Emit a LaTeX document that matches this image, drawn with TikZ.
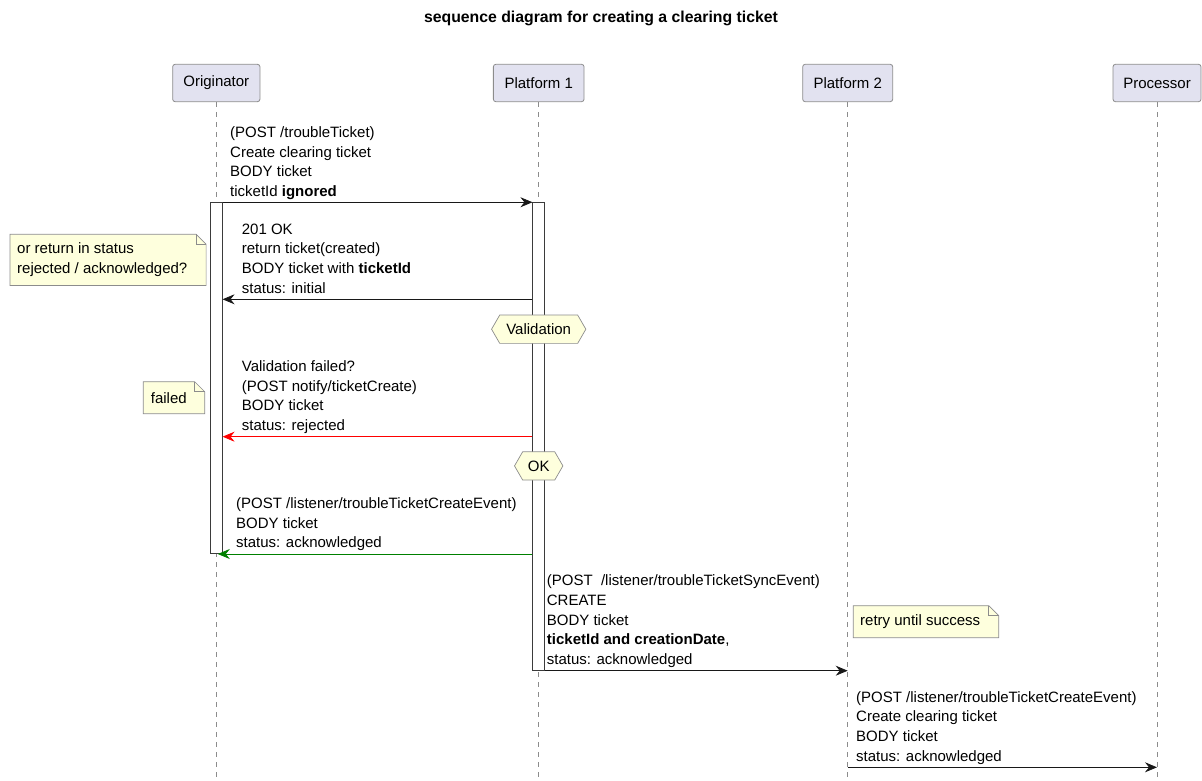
\documentclass[tikz,border=0pt]{standalone}
\usepackage{fontspec}
\setmainfont{Liberation Sans}
\usetikzlibrary{arrows.meta,shapes.symbols,calc}
\definecolor{partfill}{HTML}{E2E2F0}
\definecolor{notefill}{HTML}{FEFFDD}
\definecolor{linegray}{HTML}{181818}
\definecolor{bordergray}{HTML}{8C8C8C}
\definecolor{okgreen}{HTML}{008000}
\newcommand\drawnote[1]{%
  \draw[notebg] (#1.north west) -- ([xshift=-10pt]#1.north east) -- ([yshift=-10pt]#1.north east) -- (#1.south east) -- (#1.south west) -- cycle;
  \draw[notebg, fill=none] ([xshift=-10pt]#1.north east) -- ([xshift=-10pt,yshift=-10pt]#1.north east) -- ([yshift=-10pt]#1.north east);}
\begin{document}
\begin{tikzpicture}[x=1pt,y=-1pt,
  every node/.style={font=\fontsize{15}{19.7}\selectfont, inner sep=0pt},
  participant/.style={draw=bordergray, fill=partfill, rounded corners=2.5pt, minimum height=37.4pt, line width=0.8pt},
  lifeline/.style={draw=bordergray, dash pattern=on 5pt off 5pt, line width=0.7pt},
  actbar/.style={draw=linegray!85, fill=white, minimum width=11.6pt, line width=0.9pt},
  msg/.style={draw=linegray, line width=0.8pt, -{Stealth[length=12pt,width=10pt,inset=4pt]}},
  lbl/.style={anchor=south west, align=left},
  notebg/.style={draw=bordergray, fill=notefill, line width=0.7pt},
  hexa/.style={shape=signal, signal to=west and east, signal pointer angle=120, draw=bordergray, fill=notefill, minimum height=28.3pt, line width=0.7pt}]
\useasboundingbox (0,0) rectangle (1202,781);

% title
\node[font=\bfseries\fontsize{15.8}{19}\selectfont] (title) at (601,18) {sequence diagram for creating a clearing ticket};

% participants
\node[participant, minimum width=87.3pt] (p0) at (216.3,83) {Originator};
\node[participant, minimum width=90.7pt] (p1) at (538.7,83) {Platform 1};
\node[participant, minimum width=90pt] (p2) at (847.7,83) {Platform 2};
\node[participant, minimum width=88pt] (p3) at (1157,83) {Processor};

% lifelines
\draw[lifeline] (p0.south) -- (p0.south |- 0,781);
\draw[lifeline] (p1.south) -- (p1.south |- 0,781);
\draw[lifeline] (p2.south) -- (p2.south |- 0,781);
\draw[lifeline] (p3.south) -- (p3.south |- 0,781);

% activation bars
\node[actbar, minimum height=350.3pt] (a1) at (p0.center |- 0,377.85) {};
\node[actbar, minimum height=468pt] (a2) at (p1.center |- 0,436.7) {};

% message labels
\node[lbl] (l1) at (230,202.7) {(POST /troubleTicket)\\Create clearing ticket\\BODY ticket\\ticketId \textbf{ignored}\strut};
\node[lbl] (l2) at (241.7,299.3) {201 OK\\return ticket(created)\\BODY ticket with \textbf{ticketId}\\status: initial\strut};
\node[lbl] (l3) at (241.7,436.7) {Validation failed?\\(POST notify/ticketCreate)\\BODY ticket\\status: rejected\strut};
\node[lbl] (l4) at (236,554) {(POST /listener/troubleTicketCreateEvent)\\BODY ticket\\status: acknowledged\strut};
\node[lbl] (l5) at (546.7,670.7) {(POST\ \ /listener/troubleTicketSyncEvent)\\CREATE\\BODY ticket\\\textbf{ticketId and creationDate},\\status: acknowledged\strut};
\node[lbl] (l6) at (856,767.3) {(POST /listener/troubleTicketCreateEvent)\\Create clearing ticket\\BODY ticket\\status: acknowledged\strut};

% messages
\draw[msg] (a1.north east) -- (a2.north west);
\draw[msg] (a2.west |- l2.south) -- (a1.east |- l2.south);
\draw[msg, draw=red, color=red] (a2.west |- l3.south) -- (a1.east |- l3.south);
\draw[msg, draw=okgreen, color=okgreen] (a2.west |- l4.south) -- ($(a1.center |- l4.south)+(1.5,0)$);
\draw[msg] (a2.east |- l5.south) -- (p2.center |- l5.south);
\draw[msg] (p2.center |- l6.south) -- (p3.center |- l6.south);

% hexagons
\node[hexa, minimum width=94.3pt] (hv) at (p1.center |- 0,329.2) {Validation};
\node[hexa, minimum width=48.4pt] (hok) at (p1.center |- 0,465.9) {OK};

% notes
\node[minimum width=195.7pt, minimum height=50.7pt, anchor=north west] (n1) at (10,234.3) {};
\drawnote{n1}
\node[anchor=west, align=left] (n1t) at ([xshift=7pt]n1.west) {or return in status\\rejected / acknowledged?};

\node[minimum width=61pt, minimum height=31.6pt, anchor=north west] (n2) at (143.3,381.7) {};
\drawnote{n2}
\node[anchor=west, align=left] (n2t) at ([xshift=7.4pt]n2.west) {failed};

\node[minimum width=145pt, minimum height=31.6pt, anchor=north west] (n3) at (853.3,605.7) {};
\drawnote{n3}
\node[anchor=west, align=left] (n3t) at ([xshift=6.7pt]n3.west) {retry until success};
\end{tikzpicture}
\end{document}
